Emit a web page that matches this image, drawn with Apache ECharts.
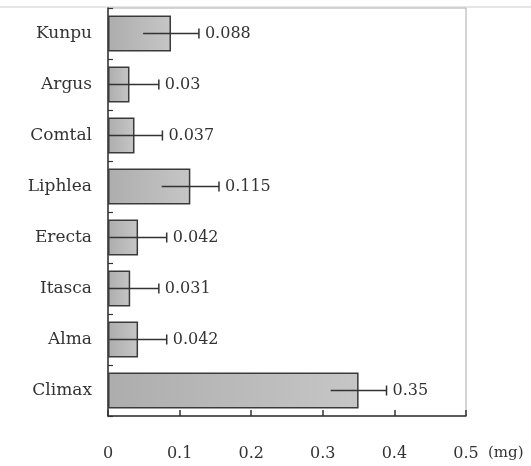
<!DOCTYPE html>
<html>
<head>
<meta charset="utf-8">
<script src="https://cdn.jsdelivr.net/npm/echarts@6/dist/echarts.min.js"></script>
<style>html,body{margin:0;padding:0;background:#fff;}#c{width:531px;height:466px;}</style>
</head>
<body>
<div id="c"></div>
<script>
const categories = ['Kunpu','Argus','Comtal','Liphlea','Erecta','Itasca','Alma','Climax'];
const values = [0.088, 0.03, 0.037, 0.115, 0.042, 0.031, 0.042, 0.35];
const errors = [0.039, 0.041, 0.039, 0.040, 0.040, 0.040, 0.040, 0.039];
const xTicks = [0, 0.1, 0.2, 0.3, 0.4, 0.5];

const chart = echarts.init(document.getElementById('c'), null, {renderer:'canvas'});
const serif = 'DejaVu Serif';
const errData = values.map((v,i)=>[v, i, errors[i]]);

chart.setOption({
  animation:false,
  backgroundColor:'#fff',
  grid:{left:108, right:65, top:8, bottom:50, show:true, borderColor:'#aaa', borderWidth:1},
  graphic:[{type:'line', shape:{x1:0,y1:7,x2:531,y2:7}, style:{stroke:'#ccc', lineWidth:1}, silent:true}],
  xAxis:{
    type:'value', min:0, max:0.5, interval:0.1,
    axisLine:{show:true, lineStyle:{color:'#333', width:1.5}},
    axisTick:{show:true, inside:true, length:6, lineStyle:{color:'#333', width:1.5}},
    splitLine:{show:false},
    axisLabel:{margin:30, color:'#333', fontFamily:serif, fontSize:16,
      formatter:(v)=>{const t=xTicks.find(x=>Math.abs(x-v)<1e-9); return t===0?'0':String(t);}},
    name:'(mg)', nameLocation:'end', nameGap:22,
    nameTextStyle:{color:'#333', fontFamily:serif, fontSize:15, verticalAlign:'top', padding:[30,0,0,0]}
  },
  yAxis:{
    type:'category', data:categories, inverse:true,
    axisLine:{show:true, lineStyle:{color:'#333', width:1.5}},
    axisTick:{show:true, inside:true, length:5, lineStyle:{color:'#333', width:1.2}},
    axisLabel:{margin:16, color:'#333', fontFamily:serif, fontSize:17}
  },
  series:[
    {
      type:'bar', data:values, barWidth:36,
      itemStyle:{
        color:new echarts.graphic.LinearGradient(0,0,1,0,[{offset:0,color:'#adadad'},{offset:1,color:'#c6c6c6'}]),
        borderColor:'#3a3a3a', borderWidth:1.5
      }
    },
    {
      type:'custom', data:errData, z:10,
      renderItem:(params, api)=>{
        const v = api.value(0), idx = api.value(1), e = api.value(2);
        const p1 = api.coord([Math.max(0, v-e), idx]);
        const p2 = api.coord([v+e, idx]);
        const y = p1[1];
        return {type:'group', children:[
          {type:'line', shape:{x1:p1[0], y1:y, x2:p2[0], y2:y}, style:{stroke:'#333', lineWidth:1.5}},
          {type:'line', shape:{x1:p2[0], y1:y-5, x2:p2[0], y2:y+5}, style:{stroke:'#333', lineWidth:1.5}},
          {type:'text', x:p2[0]+6, y:y, style:{text:String(v), fill:'#333', font:'16px "DejaVu Serif"', verticalAlign:'middle', align:'left'}}
        ]};
      }
    }
  ]
});
</script>
</body>
</html>
